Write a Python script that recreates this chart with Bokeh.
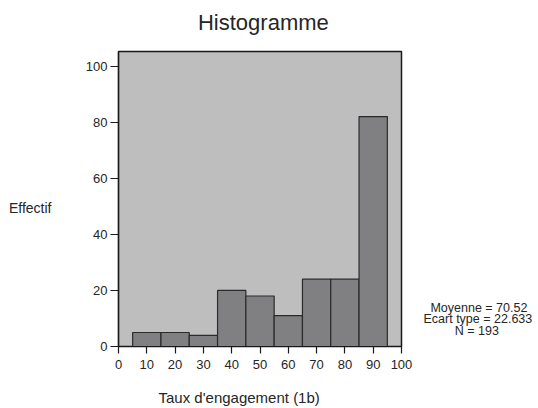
from bokeh.plotting import figure
from bokeh.models import FixedTicker, Range1d, LinearAxis, Title
from bokeh.embed import file_html
from bokeh.resources import INLINE

# Data
bin_left = [5, 15, 25, 35, 45, 55, 65, 75, 85]
bin_right = [15, 25, 35, 45, 55, 65, 75, 85, 95]
counts = [5, 5, 4, 20, 18, 11, 24, 24, 82]
x_ticks = [0, 10, 20, 30, 40, 50, 60, 70, 80, 90, 100]
y_ticks = [0, 20, 40, 60, 80, 100]
title_text = "Histogramme"
x_label = "Taux d'engagement (1b)"
y_label = "Effectif"
stats_lines = ["Moyenne = 70.52", "Ecart type = 22.633", "N = 193"]

FONT = "Liberation Sans"
TXT = "#262626"

p = figure(title=None, frame_width=283, frame_height=295, output_backend="svg",
           toolbar_location=None,
           x_range=Range1d(0, 100), y_range=Range1d(0, 105.2),
           min_border_left=118, min_border_right=137,
           min_border_top=51, min_border_bottom=62)
p.background_fill_color = "#bebebf"
p.border_fill_color = "white"
p.outline_line_color = "#1a1a1a"
p.outline_line_width = 1.5
p.xgrid.visible = False
p.ygrid.visible = False

p.quad(left=bin_left, right=bin_right, bottom=0, top=counts,
       fill_color="#808082", line_color="#2a2a2a", line_width=1.2)

for ax, ticks in ((p.xaxis[0], x_ticks), (p.yaxis[0], y_ticks)):
    ax.ticker = FixedTicker(ticks=ticks, minor_ticks=[])
    ax.minor_tick_line_color = None
    ax.major_tick_in = 0
    ax.major_tick_out = 7
    ax.major_tick_line_color = "#1a1a1a"
    ax.major_tick_line_width = 1.2
    ax.axis_line_color = "#1a1a1a"
    ax.axis_line_width = 1.2
    ax.major_label_text_font = FONT
    ax.major_label_text_font_size = "13px"
    ax.major_label_text_color = TXT
p.xaxis[0].major_label_standoff = 6
p.yaxis[0].major_label_standoff = 3
p.yaxis[0].major_tick_out = 8


def text_axis(pos, texts, size, standoff):
    ax = LinearAxis(ticker=FixedTicker(ticks=pos, minor_ticks=[]),
                    major_label_overrides={v: t for v, t in zip(pos, texts)})
    ax.axis_line_color = None
    ax.major_tick_line_color = None
    ax.minor_tick_line_color = None
    ax.major_tick_out = 0
    ax.major_tick_in = 0
    ax.major_label_standoff = standoff
    ax.major_label_text_font = FONT
    ax.major_label_text_font_size = size
    ax.major_label_text_color = TXT
    return ax


# title, centred above the frame
p.add_layout(text_axis([51.2], [title_text], "22px", 17), "above")

# y label, horizontal, left of tick labels
p.add_layout(text_axis([49.5], [y_label], "14px", 31), "left")

# x label as a title below the axis
xt = Title(text=x_label, align="left", offset=40, standoff=30,
           text_font=FONT, text_font_size="15px", text_font_style="normal",
           text_color=TXT)
p.add_layout(xt, "below")

# statistics block as labels of a right-hand axis
stat_pos = [13.74, 9.63, 5.53]
nb = "\u00a0"
padded = [nb * 2 + stats_lines[0], stats_lines[1], nb * 9 + stats_lines[2]]
p.add_layout(text_axis(stat_pos, padded, "12.5px", 22), "right")

open("out.html", "w").write(file_html(p, INLINE))
